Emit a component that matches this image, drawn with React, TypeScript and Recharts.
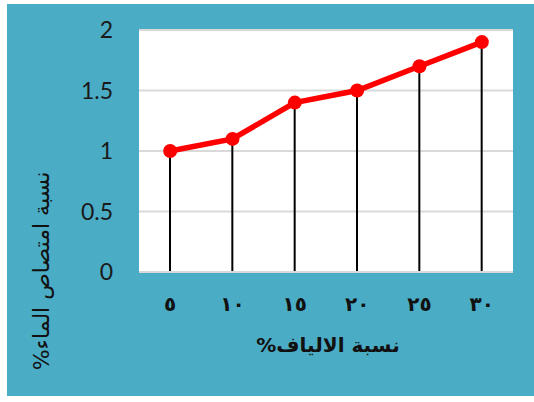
import React from "react";
import {
  Bar,
  CartesianGrid,
  ComposedChart,
  Line,
  XAxis,
  YAxis,
} from "recharts";

// fiber share (%) on the x axis, written with Arabic-Indic digits
const fiberLabels = ["٥", "١٠", "١٥", "٢٠", "٢٥", "٣٠"];
// water absorption (%) for each fiber share
const absorptionValues = [1.0, 1.1, 1.4, 1.5, 1.7, 1.9];
const yTicks = [0, 0.5, 1, 1.5, 2];

const xTitle = "نسبة الالياف%";
const yTitle = "نسبة امتصاص الماء%";

const TEAL = "#4BACC6";
const GRID = "#d9d9d9";

function YTitle() {
  return (
    <text
      x={41}
      y={271}
      transform="rotate(-90 41 271)"
      textAnchor="middle"
      dominantBaseline="central"
      direction="rtl"
      fontFamily="DejaVu Sans"
      fontSize={22}
      fill="#111"
    >
      {yTitle}
    </text>
  );
}

function XTitle() {
  return (
    <text
      x={328}
      y={345}
      textAnchor="middle"
      dominantBaseline="central"
      direction="rtl"
      fontFamily="DejaVu Sans"
      fontWeight="bold"
      fontSize={20}
      fill="#111"
    >
      {xTitle}
    </text>
  );
}

export default function App() {
  const chartData = fiberLabels.map((label, i) => ({
    fiber: label,
    absorption: absorptionValues[i],
  }));

  return (
    <div
      style={{
        position: "absolute",
        left: 0,
        top: 0,
        width: 534,
        height: 402,
        background: "#fff",
      }}
    >
      <div
        style={{
          position: "absolute",
          left: 7,
          top: 4,
          width: 527,
          height: 392,
          background: TEAL,
        }}
      />
      <div style={{ position: "absolute", left: 0, top: 0 }}>
        <ComposedChart
          width={534}
          height={402}
          data={chartData}
          margin={{ top: 30, right: 21, left: 0, bottom: 0 }}
        >
          <CartesianGrid
            vertical={false}
            fill="#ffffff"
            stroke={GRID}
            strokeWidth={2}
          />
          <XAxis
            dataKey="fiber"
            height={130}
            tickLine={false}
            axisLine={{ stroke: GRID, strokeWidth: 2 }}
            tickMargin={19}
            tick={{
              fill: "#111",
              fontSize: 20,
              fontWeight: "bold",
              fontFamily: "DejaVu Sans",
            }}
            label={<XTitle />}
          />
          <YAxis
            width={139}
            domain={[0, 2]}
            ticks={yTicks}
            interval={0}
            tickLine={false}
            axisLine={false}
            tickMargin={20}
            tick={{ fill: "#1a1a1a", fontSize: 23, fontFamily: "Lato" }}
            label={<YTitle />}
          />
          <Line
            type="linear"
            dataKey="absorption"
            stroke="#ff0000"
            strokeWidth={5.5}
            dot={{ r: 7, fill: "#ff0000", stroke: "#ff0000", strokeWidth: 0 }}
            isAnimationActive={false}
          />
          <Bar
            dataKey="absorption"
            barSize={2}
            fill="#000"
            isAnimationActive={false}
          />
        </ComposedChart>
      </div>
    </div>
  );
}
